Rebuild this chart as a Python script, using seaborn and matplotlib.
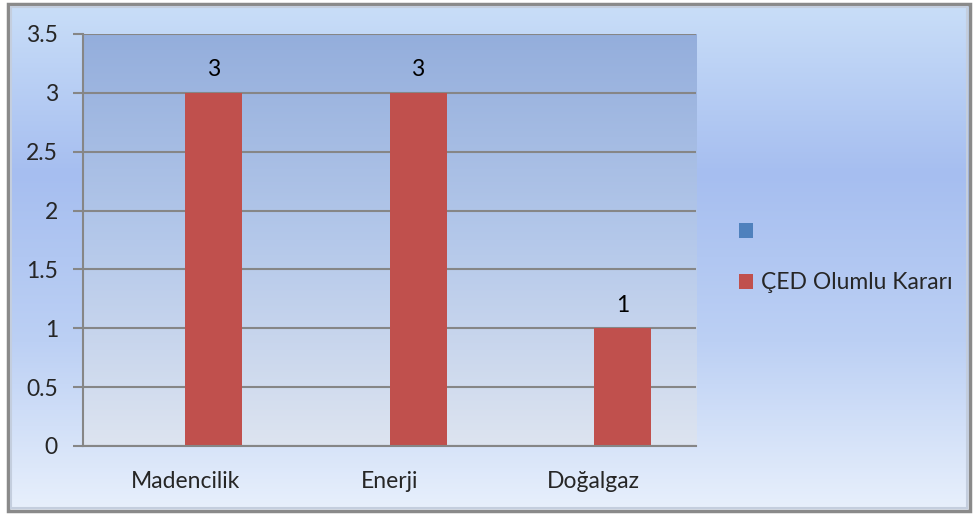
import matplotlib
matplotlib.use("Agg")
import matplotlib.pyplot as plt
import numpy as np
import pandas as pd
import seaborn as sns
from matplotlib.colors import LinearSegmentedColormap
from matplotlib.patches import Patch, Rectangle

categories = ["Madencilik", "Enerji", "Doğalgaz"]
series_names = ["", "ÇED Olumlu Kararı"]
blank_values = [0, 0, 0]
olumlu_values = [3, 3, 1]
y_ticks = [0, 0.5, 1, 1.5, 2, 2.5, 3, 3.5]
y_tick_labels = ["0", "0.5", "1", "1.5", "2", "2.5", "3", "3.5"]

series_colors = ["#4f81bd", "#c0504d"]
FS = 16.5

df = pd.DataFrame({
    "kategori": categories * 2,
    "seri": [series_names[0]] * 3 + [series_names[1]] * 3,
    "deger": blank_values + olumlu_values,
})

sns.set_theme(style="white")
plt.rcParams["font.family"] = ["Lato", "DejaVu Sans"]

fig = plt.figure(figsize=(9.74, 5.15), dpi=100)
fig.patch.set_facecolor("white")

# outer chart area gradient
bg = fig.add_axes([0.008, 0.008, 0.988, 0.984], zorder=-10)
bg_cmap = LinearSegmentedColormap.from_list("bg", ["#c9def8", "#a6bef0", "#bcd0f4", "#e8f0fc"])
bg.imshow(np.linspace(0, 1, 256).reshape(-1, 1), aspect="auto", cmap=bg_cmap,
          extent=[0, 1, 0, 1], origin="upper")
bg.set_axis_off()
fig.patches.append(Rectangle((0.008, 0.008), 0.988, 0.984, transform=fig.transFigure,
                             fill=False, edgecolor="#8a8a8a", lw=2.5))
fig.patches.append(Rectangle((0.011, 0.014), 0.982, 0.973, transform=fig.transFigure,
                             fill=False, edgecolor="#c4cede", lw=1.5))

ax = fig.add_axes([0.0852, 0.134, 0.6294, 0.8])
ax.patch.set_alpha(0)
pa_cmap = LinearSegmentedColormap.from_list("pa", ["#94aedc", "#b4c8ea", "#dde4f0"])
ax.imshow(np.linspace(0, 1, 256).reshape(-1, 1), aspect="auto", cmap=pa_cmap,
          extent=[-0.5, 2.5, 0, 3.5], origin="upper", zorder=0)

sns.barplot(data=df, x="kategori", y="deger", hue="seri", hue_order=series_names,
            palette=series_colors, width=0.56, gap=0, saturation=1, legend=False,
            linewidth=0, edgecolor="none", ax=ax, zorder=3)

for cont, name in zip(ax.containers, series_names):
    if name:
        ax.bar_label(cont, labels=[str(v) for v in olumlu_values], padding=9,
                     fontsize=FS, color="black")

ax.set_xlim(-0.5, 2.5)
ax.set_ylim(0, 3.5)
ax.set_yticks(y_ticks)
ax.set_yticklabels(y_tick_labels)
ax.yaxis.grid(True, color="#868686", lw=1.5)
for line in ax.get_ygridlines():
    line.set_zorder(1)
ax.set_xlabel("")
ax.set_ylabel("")

ax.set_xticks(np.arange(-0.5, 3, 1), minor=True)
ax.tick_params(axis="x", which="major", length=0, pad=18, labelsize=FS)
ax.tick_params(axis="x", which="minor", length=7, width=1.5, color="#868686", direction="out")
ax.tick_params(axis="y", length=7, width=1.5, color="#868686", direction="out",
               pad=11, labelsize=FS, left=True)

for side in ["top", "right"]:
    ax.spines[side].set_visible(False)
for side in ["left", "bottom"]:
    ax.spines[side].set_color("#868686")
    ax.spines[side].set_linewidth(1.5)
    ax.spines[side].set_zorder(4)

handles = [Patch(facecolor=c, edgecolor="none") for c in series_colors]
labels = [" ", series_names[1]]
fig.legend(handles, labels, loc="center left", bbox_to_anchor=(0.759, 0.5),
           frameon=False, fontsize=FS, handlelength=0.6, handleheight=0.6,
           handletextpad=0.35, labelspacing=1.3, borderpad=0, borderaxespad=0)

fig.savefig("out.png", dpi=100, facecolor=fig.get_facecolor())
